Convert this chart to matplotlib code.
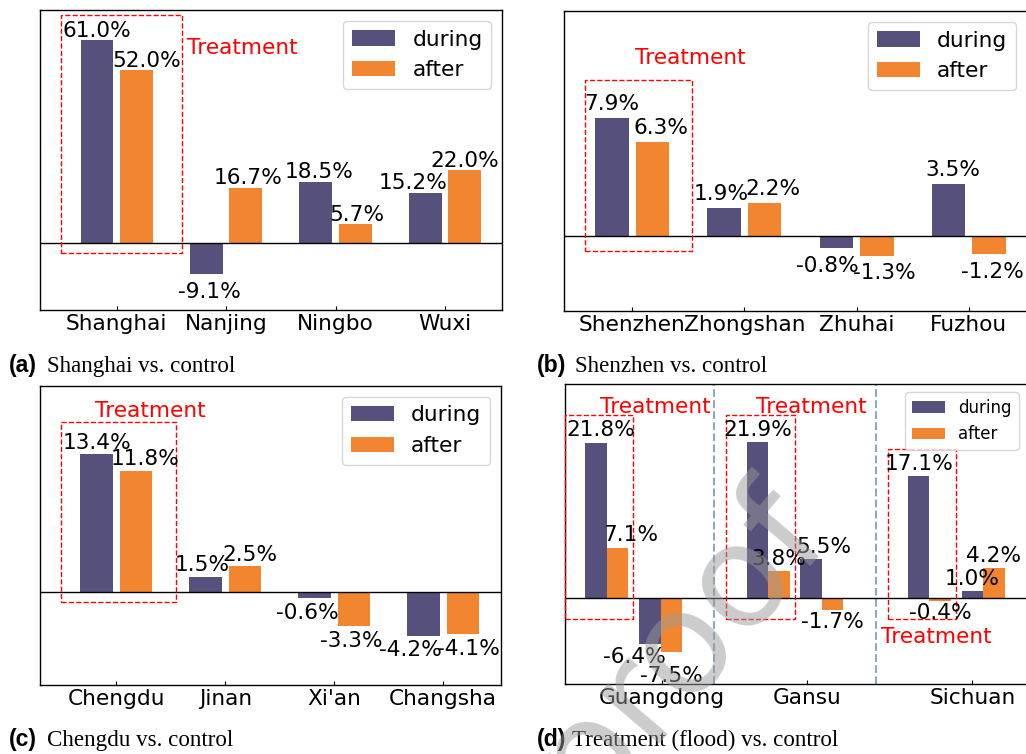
import matplotlib
matplotlib.use("Agg")
import matplotlib.pyplot as plt
from matplotlib.patches import Rectangle

# ---------------- data ----------------
series_names = ["during", "after"]

cities_a = ["Shanghai", "Nanjing", "Ningbo", "Wuxi"]
during_a = [61.0, -9.1, 18.5, 15.2]
after_a = [52.0, 16.7, 5.7, 22.0]

cities_b = ["Shenzhen", "Zhongshan", "Zhuhai", "Fuzhou"]
during_b = [7.9, 1.9, -0.8, 3.5]
after_b = [6.3, 2.2, -1.3, -1.2]

cities_c = ["Chengdu", "Jinan", "Xi'an", "Changsha"]
during_c = [13.4, 1.5, -0.6, -4.2]
after_c = [11.8, 2.5, -3.3, -4.1]

provinces_d = ["Guangdong", "Gansu", "Sichuan"]
# treatment / control pair for each province
during_d = [21.8, -6.4, 21.9, 5.5, 17.1, 1.0]
after_d = [7.1, -7.5, 3.8, -1.7, -0.4, 4.2]

captions = [("(a)", "Shanghai vs. control"),
            ("(b)", "Shenzhen vs. control"),
            ("(c)", "Chengdu vs. control"),
            ("(d)", "Treatment (flood) vs. control")]

# ---------------- style ----------------
C_DURING = "#56507c"
C_AFTER = "#f28530"
FS = 15.6
W, H = 1026, 754
PX = 72.0 / 100.0      # points per pixel
CAP = 0.729 * FS / PX  # digit height in pixels

fig = plt.figure(figsize=(W / 100, H / 100), dpi=100)


def axes_px(l, t, r, b):
    return fig.add_axes([l / W, 1 - b / H, (r - l) / W, (b - t) / H])


def style_axes(ax, xlim, ylim, ticks, labels):
    ax.set_xlim(*xlim)
    ax.set_ylim(*ylim)
    ax.set_yticks([])
    ax.set_xticks(ticks)
    ax.set_xticklabels(labels, fontsize=FS)
    ax.tick_params(axis="x", direction="in", length=3, pad=3)
    for s in ax.spines.values():
        s.set_color("black")
        s.set_linewidth(1.0)
    ax.axhline(0, color="black", lw=1.0, zorder=3)


def value_labels(ax, xs, vals, dxs, pos_gap, neg_gap, extra_dy=None):
    for i, (x, v, dx) in enumerate(zip(xs, vals, dxs)):
        if v >= 0:
            dy = pos_gap
        else:
            dy = -(neg_gap + CAP)
        if extra_dy is not None:
            dy += extra_dy[i]
        ax.annotate(f"{v:.1f}%", xy=(x, v), xytext=(dx * PX, dy * PX),
                    textcoords="offset points", ha="center", va="baseline",
                    fontsize=FS, zorder=5)


def pair_panel(ax, cats, dur, aft, width, off):
    xs = list(range(len(cats)))
    xd = [x - off for x in xs]
    xa = [x + off for x in xs]
    ax.bar(xd, dur, width, color=C_DURING, label=series_names[0], zorder=2)
    ax.bar(xa, aft, width, color=C_AFTER, label=series_names[1], zorder=2)
    return xs, xd, xa


def treatment_box(ax, x0, x1, y0, y1):
    ax.add_patch(Rectangle((x0, y0), x1 - x0, y1 - y0, fill=False,
                           ec="red", ls="--", lw=1.0, zorder=4, clip_on=False))


def treatment_text(ax, x, y):
    ax.text(x, y, "Treatment", color="red", fontsize=FS, ha="center",
            va="baseline", zorder=5)


# ---------------- (a) ----------------
ax = axes_px(40, 10, 502, 310)
xs, xd, xa = pair_panel(ax, cities_a, during_a, after_a, 0.3, 0.18)
style_axes(ax, (-0.70, 3.52), (-20, 70), xs, cities_a)
value_labels(ax, xd, during_a, [0, 3, 3, -12], 3.3, 8.4)
value_labels(ax, xa, after_a, [10, 2, 2, 0], 3.3, 8.4)
treatment_box(ax, -0.51, 0.594, -2.8, 68.5)
treatment_text(ax, 1.146, 56.8)
ax.legend(fontsize=FS, loc="upper right")

# ---------------- (b) ----------------
ax = axes_px(564, 11, 1027, 311)
xs, xd, xa = pair_panel(ax, cities_b, during_b, after_b, 0.3, 0.18)
style_axes(ax, (-0.61, 3.52), (-5, 15), xs, cities_b)
value_labels(ax, xd, during_b, [0, -3, -9, 4], 8, 8)
value_labels(ax, xa, after_b, [8, 8, 8, 4], 8, 8)
treatment_box(ax, -0.424, 0.531, -1.0, 10.37)
treatment_text(ax, 0.513, 11.45)
ax.legend(fontsize=FS, loc="upper right")

# ---------------- (c) ----------------
ax = axes_px(40, 386, 501, 685)
xs, xd, xa = pair_panel(ax, cities_c, during_c, after_c, 0.3, 0.18)
style_axes(ax, (-0.70, 3.53), (-9, 20), xs, cities_c)
value_labels(ax, xd, during_c, [0, -3, -7, -13], 5.5, 5)
value_labels(ax, xa, after_c, [9, 5, -3, 6], 5.5, 5)
treatment_box(ax, -0.507, 0.55, -0.97, 16.5)
treatment_text(ax, 0.31, 17.0)
ax.legend(fontsize=FS, loc="upper right")

# ---------------- (d) ----------------
ax = axes_px(565, 384, 1027, 684)
pair_pos = [0.0, 0.5, 1.5, 2.0, 3.0, 3.5]
xd = [p - 0.1 for p in pair_pos]
xa = [p + 0.1 for p in pair_pos]
ax.bar(xd, during_d, 0.2, color=C_DURING, label=series_names[0], zorder=2)
ax.bar(xa, after_d, 0.2, color=C_AFTER, label=series_names[1], zorder=2)
style_axes(ax, (-0.39, 3.907), (-12, 30), [0.51, 1.86, 3.40], provinces_d)
value_labels(ax, xd, during_d, [5, -16, 0, 13, 0, 0], 6.3, 3,
             [0, 0, 0, 0, 0, 0])
value_labels(ax, xa, after_d, [13, 0, 0, 0, 0, 0], 6.3, 2,
             [0, -12, 0, 0, 0, 0])
for xv in (1.0, 2.5):
    ax.axvline(xv, color="#8ea8c3", ls="--", lw=1.5, zorder=1)
for k in (0, 2, 4):
    c = pair_pos[k]
    top = max(during_d[k], after_d[k]) + 3.8
    treatment_box(ax, c - 0.39, c + 0.245, -2.9, top)
treatment_text(ax, 0.447, 25.95)
treatment_text(ax, 1.898, 25.95)
treatment_text(ax, 3.06, -6.26)
ax.legend(fontsize=12, loc="upper right")

# ---------------- captions ----------------
cap_pos = [(9, 47, 372), (537, 575, 372), (9, 47, 746), (537, 572, 746)]
for (tag, txt), (xb, xt, yb) in zip(captions, cap_pos):
    fig.text(xb / W, 1 - yb / H, tag, fontsize=16.6, fontweight="bold",
             family="Liberation Sans", va="baseline", ha="left")
    fig.text(xt / W, 1 - yb / H, txt, fontsize=16.6,
             family="Liberation Serif", va="baseline", ha="left")

# diagonal watermark
fig.text(679 / W, 1 - 645 / H, "proof", rotation=49.6, rotation_mode="anchor",
         ha="center", va="center", fontsize=103, color="#9a9a9a", alpha=0.5,
         zorder=10)

fig.savefig("out.png", dpi=100)
